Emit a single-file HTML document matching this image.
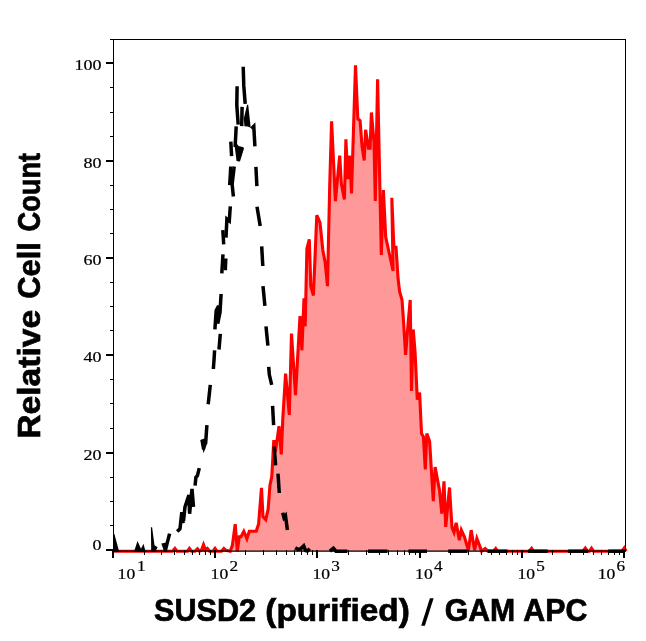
<!DOCTYPE html>
<html><head><meta charset="utf-8"><title>SUSD2 histogram</title>
<style>
html,body{margin:0;padding:0;background:#fff;}
body{width:646px;height:641px;position:relative;overflow:hidden;font-family:"Liberation Sans",sans-serif;}
</style></head><body>
<svg width="646" height="641" viewBox="0 0 646 641" style="position:absolute;left:0;top:0;will-change:transform">
<rect width="646" height="641" fill="#fff"/>
<polygon points="113.5,551.2 172.5,551.2 174.9,548.4 177.0,551.2 187.5,551.2 189.4,548.4 191.5,551.2 195.0,551.2 197.5,548.8 199.5,551.2 201.5,550.0 203.5,544.8 205.5,550.0 207.4,548.4 209.5,551.2 213.0,551.2 215.0,548.4 217.0,551.2 221.5,551.2 223.9,548.4 226.0,550.3 230.2,551.2 232.4,545.3 235.2,524.1 237.3,551.2 239.3,536.7 241.0,536.7 243.8,531.3 246.9,538.8 249.3,531.3 256.2,531.3 258.6,524.0 261.5,487.8 263.0,516.8 265.8,519.6 268.1,509.3 270.0,485.0 271.8,476.5 273.8,440.2 275.3,452.4 279.0,426.1 281.3,454.4 282.8,418.7 285.6,373.7 289.3,414.9 291.5,333.6 295.5,395.2 300.0,316.1 301.9,350.3 304.0,298.4 305.2,326.4 306.9,248.7 309.3,239.4 310.8,286.2 313.4,295.5 316.8,215.2 320.0,222.7 322.8,250.0 325.2,262.8 327.5,286.2 329.7,186.2 331.6,121.4 335.4,201.1 339.7,155.7 341.4,184.0 344.4,199.5 345.9,139.4 347.8,179.2 349.9,155.7 351.5,193.5 355.5,65.2 357.8,118.7 360.1,120.8 362.0,146.0 364.2,160.5 365.6,129.8 368.5,148.2 370.1,148.2 371.4,112.5 374.0,142.0 375.3,201.0 377.6,79.4 381.3,255.0 383.4,190.0 385.7,237.0 393.1,271.0 391.8,197.8 393.9,247.2 396.0,247.2 398.1,279.0 399.6,291.5 402.0,300.0 403.5,321.1 405.6,355.0 408.4,320.0 410.2,300.0 411.5,391.0 413.2,329.5 415.0,351.0 417.3,399.6 419.6,392.5 421.5,433.5 423.4,436.7 425.3,469.4 426.8,433.5 429.6,441.3 433.3,501.2 435.1,467.1 439.5,490.3 441.8,513.7 444.0,481.3 445.7,526.9 449.5,487.5 452.0,527.7 454.0,532.4 456.2,522.8 459.3,540.2 461.3,530.1 464.5,537.1 468.4,550.3 471.2,530.1 474.6,550.3 476.9,538.6 479.3,544.9 481.6,551.2 485.2,548.6 487.9,551.2 493.5,551.2 495.7,548.6 497.5,551.2 529.5,551.2 531.6,548.4 533.5,551.2 583.0,551.2 585.3,548.2 587.5,551.2 589.5,551.2 591.5,548.2 593.5,551.2 622.0,551.2 624.3,548.0 626.0,551.2 626.0,551.2 113.5,551.2" fill="#ff9999" stroke="none"/>
<polyline points="113.5,551.2 172.5,551.2 174.9,548.4 177.0,551.2 187.5,551.2 189.4,548.4 191.5,551.2 195.0,551.2 197.5,548.8 199.5,551.2 201.5,550.0 203.5,544.8 205.5,550.0 207.4,548.4 209.5,551.2 213.0,551.2 215.0,548.4 217.0,551.2 221.5,551.2 223.9,548.4 226.0,550.3 230.2,551.2 232.4,545.3 235.2,524.1 237.3,551.2 239.3,536.7 241.0,536.7 243.8,531.3 246.9,538.8 249.3,531.3 256.2,531.3 258.6,524.0 261.5,487.8 263.0,516.8 265.8,519.6 268.1,509.3 270.0,485.0 271.8,476.5 273.8,440.2 275.3,452.4 279.0,426.1 281.3,454.4 282.8,418.7 285.6,373.7 289.3,414.9 291.5,333.6 295.5,395.2 300.0,316.1 301.9,350.3 304.0,298.4 305.2,326.4 306.9,248.7 309.3,239.4 310.8,286.2 313.4,295.5 316.8,215.2 320.0,222.7 322.8,250.0 325.2,262.8 327.5,286.2 329.7,186.2 331.6,121.4 335.4,201.1 339.7,155.7 341.4,184.0 344.4,199.5 345.9,139.4 347.8,179.2 349.9,155.7 351.5,193.5 355.5,65.2 357.8,118.7 360.1,120.8 362.0,146.0 364.2,160.5 365.6,129.8 368.5,148.2 370.1,148.2 371.4,112.5 374.0,142.0 375.3,201.0 377.6,79.4 381.3,255.0 383.4,190.0 385.7,237.0 393.1,271.0 391.8,197.8 393.9,247.2 396.0,247.2 398.1,279.0 399.6,291.5 402.0,300.0 403.5,321.1 405.6,355.0 408.4,320.0 410.2,300.0 411.5,391.0 413.2,329.5 415.0,351.0 417.3,399.6 419.6,392.5 421.5,433.5 423.4,436.7 425.3,469.4 426.8,433.5 429.6,441.3 433.3,501.2 435.1,467.1 439.5,490.3 441.8,513.7 444.0,481.3 445.7,526.9 449.5,487.5 452.0,527.7 454.0,532.4 456.2,522.8 459.3,540.2 461.3,530.1 464.5,537.1 468.4,550.3 471.2,530.1 474.6,550.3 476.9,538.6 479.3,544.9 481.6,551.2 485.2,548.6 487.9,551.2 493.5,551.2 495.7,548.6 497.5,551.2 529.5,551.2 531.6,548.4 533.5,551.2 583.0,551.2 585.3,548.2 587.5,551.2 589.5,551.2 591.5,548.2 593.5,551.2 622.0,551.2 624.3,548.0 626.0,551.2" fill="none" stroke="#ff0000" stroke-width="3.1" stroke-linejoin="miter" stroke-miterlimit="4"/>
<polygon points="200.6,551 203.5,540.6 206.4,551" fill="#ff0000"/>
<g fill="none" stroke="#000" stroke-width="3.5" stroke-linejoin="miter" stroke-linecap="butt">
<polyline points="165.3,550.5 169.6,533.6"/>
<polyline points="177.2,531.5 180.0,528.6 181.8,512.3 183.1,523.2"/>
<polyline points="183.5,521.0 185.0,506.8 188.9,495.1 189.6,513.8 192.0,488.9 193.5,506.8"/>
<polyline points="195.1,485.7 195.9,477.2 197.4,475.6 199.3,468.1"/>
<polyline points="203.7,449.5 202.2,441.1 204.6,440.2 205.6,443.9 206.9,425.2"/>
<polyline points="203.0,442.5 204.0,447.0 205.3,443.5"/>
<polyline points="208.2,404.2 210.3,384.9"/>
<polyline points="213.4,369.0 214.6,350.3"/>
<polyline points="219.0,349.5 220.3,333.9"/>
<polyline points="214.9,329.3 216.2,310.5 218.7,305.8 217.7,323.6 220.0,312.4 221.1,294.0"/>
<polyline points="221.8,273.4 223.0,254.3"/>
<polyline points="225.3,270.3 225.8,258.5"/>
<polyline points="223.7,244.4 222.8,230.2"/>
<polyline points="226.0,237.7 226.9,219.0 229.3,220.8 230.3,206.4"/>
<polyline points="229.7,185.2 230.8,166.5"/>
<polyline points="233.4,196.5 232.1,184.3 234.2,166.5"/>
<polyline points="231.6,156.2 230.8,141.6"/>
<polyline points="236.2,126.4 235.2,145.5 236.4,146.0 238.3,160.9 242.4,147.8"/>
<polyline points="237.1,86.2 236.8,105.4 238.2,124.6"/>
<polyline points="242.1,106.9 241.7,126.1"/>
<polyline points="243.2,66.8 243.8,85.9 245.2,103.8"/>
<polyline points="251.5,128.8 253.8,126.4 254.9,146.3"/>
<polyline points="255.9,166.9 256.9,186.2"/>
<polyline points="257.0,206.8 260.2,226.0"/>
<polyline points="261.7,246.3 262.8,266.0"/>
<polyline points="263.0,286.2 264.9,305.8"/>
<polyline points="266.0,326.4 267.9,345.7"/>
<polyline points="268.7,366.8 269.3,374.6 271.7,384.9"/>
<polyline points="272.6,405.9 273.6,425.2"/>
<polyline points="274.2,446.5 275.6,465.3"/>
<polyline points="278.0,473.7 279.3,493.0"/>
<polyline points="282.7,512.7 284.0,517.7 285.5,515.8 287.4,529.9"/>
<polyline points="295.2,547.7 298.0,549.5 300.9,548.6 303.7,545.8 305.5,550.5 307.4,551.0 309.7,548.6"/>
<polyline points="329.9,551.2 333.4,548.2 336.0,551.2 347.4,551.2"/>
<polyline points="368.0,551.2 387.5,551.2"/>
<polyline points="408.4,551.2 427.0,551.2"/>
<polyline points="448.2,551.2 467.5,551.2"/>
<polyline points="487.9,551.2 507.4,551.2"/>
<polyline points="528.2,551.2 547.7,551.2"/>
<polyline points="568.2,551.2 588.1,551.2"/>
<polyline points="608.2,551.2 625.0,551.2"/>
<polygon points="113.0,534.0 114.4,534.0 119.2,551.8 113.0,551.8" fill="#000" stroke="none"/>
<polygon points="134.0,551.8 137.5,541.0 141.0,548.8 143.5,543.8 145.6,551.8" fill="#000" stroke="none"/>
<polygon points="150.9,527.3 152.1,527.3 154.5,545.2 157.6,547.2 155.2,551.8 151.2,551.8" fill="#000" stroke="none"/>
<polygon points="161.3,543.6 166.8,542.6 166.6,551.8 164.2,551.8" fill="#000" stroke="none"/>
<polygon points="236.4,145.6 243.6,147.2 238.5,162.0" fill="#000" stroke="none"/>
<polygon points="247.1,104.8 248.2,104.8 250.7,127.8 247.6,126.6 244.4,126.2 243.8,118.5" fill="#000" stroke="none"/>
</g>
<g stroke="#000" fill="none" shape-rendering="crispEdges">
<line x1="110" y1="39.5" x2="626" y2="39.5" stroke-width="1"/>
<line x1="113.5" y1="39" x2="113.5" y2="551" stroke-width="1"/>
<line x1="625.5" y1="39" x2="625.5" y2="551" stroke-width="1"/>
<line x1="113" y1="551.2" x2="626" y2="551.2" stroke-width="1.3" shape-rendering="auto"/>
<line x1="106" y1="550.2" x2="113" y2="550.2" stroke-width="2"/>
<line x1="110" y1="525.9" x2="113" y2="525.9" stroke-width="1"/>
<line x1="110" y1="501.6" x2="113" y2="501.6" stroke-width="1"/>
<line x1="110" y1="477.2" x2="113" y2="477.2" stroke-width="1"/>
<line x1="106" y1="452.9" x2="113" y2="452.9" stroke-width="2"/>
<line x1="110" y1="428.4" x2="113" y2="428.4" stroke-width="1"/>
<line x1="110" y1="403.9" x2="113" y2="403.9" stroke-width="1"/>
<line x1="110" y1="379.5" x2="113" y2="379.5" stroke-width="1"/>
<line x1="106" y1="355.0" x2="113" y2="355.0" stroke-width="2"/>
<line x1="110" y1="330.8" x2="113" y2="330.8" stroke-width="1"/>
<line x1="110" y1="306.5" x2="113" y2="306.5" stroke-width="1"/>
<line x1="110" y1="282.2" x2="113" y2="282.2" stroke-width="1"/>
<line x1="106" y1="258.0" x2="113" y2="258.0" stroke-width="2"/>
<line x1="110" y1="233.8" x2="113" y2="233.8" stroke-width="1"/>
<line x1="110" y1="209.5" x2="113" y2="209.5" stroke-width="1"/>
<line x1="110" y1="185.2" x2="113" y2="185.2" stroke-width="1"/>
<line x1="106" y1="161.0" x2="113" y2="161.0" stroke-width="2"/>
<line x1="110" y1="136.5" x2="113" y2="136.5" stroke-width="1"/>
<line x1="110" y1="112.0" x2="113" y2="112.0" stroke-width="1"/>
<line x1="110" y1="87.5" x2="113" y2="87.5" stroke-width="1"/>
<line x1="106" y1="63.0" x2="113" y2="63.0" stroke-width="2"/>
<line x1="113.4" y1="550" x2="113.4" y2="557.5" stroke-width="2"/>
<line x1="144.0" y1="550" x2="144.0" y2="554.5" stroke-width="1"/>
<line x1="161.8" y1="550" x2="161.8" y2="554.5" stroke-width="1"/>
<line x1="174.5" y1="550" x2="174.5" y2="554.5" stroke-width="1"/>
<line x1="184.3" y1="550" x2="184.3" y2="554.5" stroke-width="1"/>
<line x1="192.4" y1="550" x2="192.4" y2="554.5" stroke-width="1"/>
<line x1="199.2" y1="550" x2="199.2" y2="554.5" stroke-width="1"/>
<line x1="205.1" y1="550" x2="205.1" y2="554.5" stroke-width="1"/>
<line x1="210.3" y1="550" x2="210.3" y2="554.5" stroke-width="1"/>
<line x1="214.9" y1="550" x2="214.9" y2="557.5" stroke-width="2"/>
<line x1="245.6" y1="550" x2="245.6" y2="554.5" stroke-width="1"/>
<line x1="263.6" y1="550" x2="263.6" y2="554.5" stroke-width="1"/>
<line x1="276.4" y1="550" x2="276.4" y2="554.5" stroke-width="1"/>
<line x1="286.3" y1="550" x2="286.3" y2="554.5" stroke-width="1"/>
<line x1="294.3" y1="550" x2="294.3" y2="554.5" stroke-width="1"/>
<line x1="301.2" y1="550" x2="301.2" y2="554.5" stroke-width="1"/>
<line x1="307.1" y1="550" x2="307.1" y2="554.5" stroke-width="1"/>
<line x1="312.3" y1="550" x2="312.3" y2="554.5" stroke-width="1"/>
<line x1="317.0" y1="550" x2="317.0" y2="557.5" stroke-width="2"/>
<line x1="348.0" y1="550" x2="348.0" y2="554.5" stroke-width="1"/>
<line x1="366.1" y1="550" x2="366.1" y2="554.5" stroke-width="1"/>
<line x1="379.0" y1="550" x2="379.0" y2="554.5" stroke-width="1"/>
<line x1="388.9" y1="550" x2="388.9" y2="554.5" stroke-width="1"/>
<line x1="397.1" y1="550" x2="397.1" y2="554.5" stroke-width="1"/>
<line x1="404.0" y1="550" x2="404.0" y2="554.5" stroke-width="1"/>
<line x1="409.9" y1="550" x2="409.9" y2="554.5" stroke-width="1"/>
<line x1="415.2" y1="550" x2="415.2" y2="554.5" stroke-width="1"/>
<line x1="419.9" y1="550" x2="419.9" y2="557.5" stroke-width="2"/>
<line x1="450.7" y1="550" x2="450.7" y2="554.5" stroke-width="1"/>
<line x1="468.7" y1="550" x2="468.7" y2="554.5" stroke-width="1"/>
<line x1="481.5" y1="550" x2="481.5" y2="554.5" stroke-width="1"/>
<line x1="491.4" y1="550" x2="491.4" y2="554.5" stroke-width="1"/>
<line x1="499.5" y1="550" x2="499.5" y2="554.5" stroke-width="1"/>
<line x1="506.4" y1="550" x2="506.4" y2="554.5" stroke-width="1"/>
<line x1="512.3" y1="550" x2="512.3" y2="554.5" stroke-width="1"/>
<line x1="517.5" y1="550" x2="517.5" y2="554.5" stroke-width="1"/>
<line x1="522.2" y1="550" x2="522.2" y2="557.5" stroke-width="2"/>
<line x1="552.9" y1="550" x2="552.9" y2="554.5" stroke-width="1"/>
<line x1="570.9" y1="550" x2="570.9" y2="554.5" stroke-width="1"/>
<line x1="583.7" y1="550" x2="583.7" y2="554.5" stroke-width="1"/>
<line x1="593.6" y1="550" x2="593.6" y2="554.5" stroke-width="1"/>
<line x1="601.6" y1="550" x2="601.6" y2="554.5" stroke-width="1"/>
<line x1="608.5" y1="550" x2="608.5" y2="554.5" stroke-width="1"/>
<line x1="614.4" y1="550" x2="614.4" y2="554.5" stroke-width="1"/>
<line x1="619.6" y1="550" x2="619.6" y2="554.5" stroke-width="1"/>
<line x1="624.3" y1="550" x2="624.3" y2="557.5" stroke-width="2"/>
</g>
<g font-family="'Liberation Serif', serif" font-size="14px" fill="#000" stroke="#000" stroke-width="0.2">
<text x="74.6" y="69.7" textLength="27.0" lengthAdjust="spacingAndGlyphs">100</text>
<text x="83.6" y="167.9" textLength="18.0" lengthAdjust="spacingAndGlyphs">80</text>
<text x="83.6" y="264.9" textLength="18.0" lengthAdjust="spacingAndGlyphs">60</text>
<text x="83.6" y="361.9" textLength="18.0" lengthAdjust="spacingAndGlyphs">40</text>
<text x="83.6" y="459.8" textLength="18.0" lengthAdjust="spacingAndGlyphs">20</text>
<text x="92.4" y="550.0" textLength="9.0" lengthAdjust="spacingAndGlyphs">0</text>
<text x="117.6" y="579.3" textLength="17.6" lengthAdjust="spacingAndGlyphs">10</text>
<text x="137.0" y="570.6" textLength="8.6" lengthAdjust="spacingAndGlyphs">1</text>
<text x="210.6" y="579.3" textLength="17.6" lengthAdjust="spacingAndGlyphs">10</text>
<text x="229.4" y="570.6" textLength="8.6" lengthAdjust="spacingAndGlyphs">2</text>
<text x="312.4" y="579.3" textLength="17.6" lengthAdjust="spacingAndGlyphs">10</text>
<text x="331.2" y="570.6" textLength="8.6" lengthAdjust="spacingAndGlyphs">3</text>
<text x="415.1" y="579.3" textLength="17.6" lengthAdjust="spacingAndGlyphs">10</text>
<text x="433.9" y="570.6" textLength="8.6" lengthAdjust="spacingAndGlyphs">4</text>
<text x="517.4" y="579.3" textLength="17.6" lengthAdjust="spacingAndGlyphs">10</text>
<text x="536.2" y="570.6" textLength="8.6" lengthAdjust="spacingAndGlyphs">5</text>
<text x="597.8" y="579.3" textLength="17.6" lengthAdjust="spacingAndGlyphs">10</text>
<text x="616.6" y="570.6" textLength="8.6" lengthAdjust="spacingAndGlyphs">6</text>
</g>
<g font-family="'Liberation Sans', sans-serif" font-weight="bold" font-size="32px" fill="#000" stroke="#000" stroke-width="0.7">
<text x="154.0" y="620.5" textLength="102.0" lengthAdjust="spacingAndGlyphs">SUSD2</text>
<text x="265.3" y="620.5" textLength="144.5" lengthAdjust="spacingAndGlyphs">(purified)</text>
<polygon points="429.9,598.2 433.6,598.2 424.9,625.7 421.2,625.7" stroke="none"/>
<text x="444.8" y="620.5" textLength="70.5" lengthAdjust="spacingAndGlyphs">GAM</text>
<text x="523.3" y="620.5" textLength="64.0" lengthAdjust="spacingAndGlyphs">APC</text>
<g transform="translate(39.7,436) rotate(-90)">
<text x="-2.8" y="0.0" textLength="129.0" lengthAdjust="spacingAndGlyphs">Relative</text>
<text x="137.3" y="0.0" textLength="56.5" lengthAdjust="spacingAndGlyphs">Cell</text>
<text x="204.5" y="0.0" textLength="78.6" lengthAdjust="spacingAndGlyphs">Count</text>
</g>
</g>
</svg>
</body></html>
